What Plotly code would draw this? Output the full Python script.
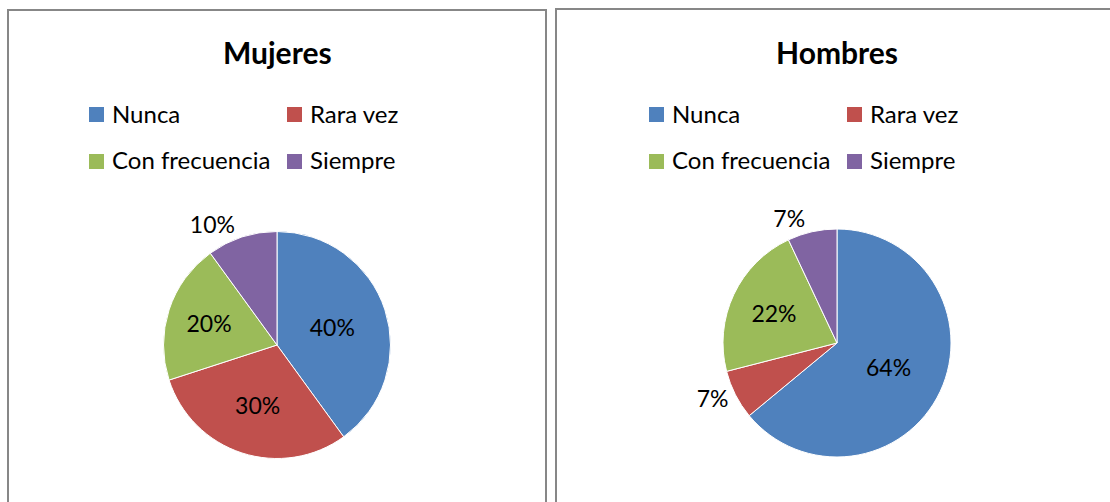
import plotly.graph_objects as go

# ---- data ----
categories = ["Nunca", "Rara vez", "Con frecuencia", "Siempre"]
mujeres = [40, 30, 20, 10]
hombres = [64, 7, 22, 7]
titles = ["Mujeres", "Hombres"]
colors = ["#4F81BD", "#C0504D", "#9BBB59", "#8064A2"]
mujeres_textpos = ["inside", "inside", "inside", "outside"]
hombres_textpos = ["inside", "outside", "inside", "outside"]

W, H = 1110, 502
FONT = "Lato, Carlito, Calibri, sans-serif"


def px(x):
    return x / W


def py(y):
    return 1 - y / H


panels = [
    dict(x0=8, x1=546, top=10, cx=277, cy=345, r=113.5),
    dict(x0=556, x1=1125, top=9, cx=837, cy=343, r=114),
]
values_list = [mujeres, hombres]
textpos_list = [mujeres_textpos, hombres_textpos]

fig = go.Figure()
shapes = []
annotations = []

for p, vals, tpos, title in zip(panels, values_list, textpos_list, titles):
    fig.add_trace(go.Pie(
        labels=categories, values=vals, sort=False, direction="clockwise", rotation=0,
        marker=dict(colors=colors, line=dict(color="white", width=1)),
        texttemplate="%{percent:.0%}", textposition=tpos,
        insidetextorientation="horizontal",
        textfont=dict(family=FONT, size=23, color="black"),
        domain=dict(x=[px(p["cx"] - p["r"]), px(p["cx"] + p["r"])],
                    y=[py(p["cy"] + p["r"]), py(p["cy"] - p["r"])]),
        showlegend=False, hoverinfo="label+percent",
    ))
    # panel border
    shapes.append(dict(type="rect", xref="paper", yref="paper",
                       x0=px(p["x0"]), x1=px(p["x1"]), y0=py(H + 20), y1=py(p["top"]),
                       line=dict(color="#878787", width=2), fillcolor="rgba(0,0,0,0)"))
    # title
    annotations.append(dict(text="<b>" + title + "</b>", x=px(p["cx"]), y=py(52),
                            xref="paper", yref="paper", xanchor="center", yanchor="middle",
                            showarrow=False, font=dict(family=FONT, size=30, color="black")))
    # legend (2 x 2)
    for i, (cat, col) in enumerate(zip(categories, colors)):
        c, r = i % 2, i // 2
        sx = p["cx"] - 188 + c * 198
        sy = 107 + r * 47
        shapes.append(dict(type="rect", xref="paper", yref="paper",
                           x0=px(sx), x1=px(sx + 15), y0=py(sy + 15), y1=py(sy),
                           line=dict(width=0), fillcolor=col))
        annotations.append(dict(text=cat, x=px(sx + 21), y=py(sy + 6),
                                xref="paper", yref="paper", xanchor="left", yanchor="middle",
                                showarrow=False, font=dict(family=FONT, size=24, color="black")))

fig.update_layout(
    width=W, height=H,
    margin=dict(l=0, r=0, t=0, b=0),
    paper_bgcolor="white", plot_bgcolor="white",
    shapes=shapes, annotations=annotations,
    showlegend=False,
)

fig.write_html("out.html",
               config={"displayModeBar": False},
               post_script="document.body.style.margin='0px';document.body.style.overflow='hidden';")
